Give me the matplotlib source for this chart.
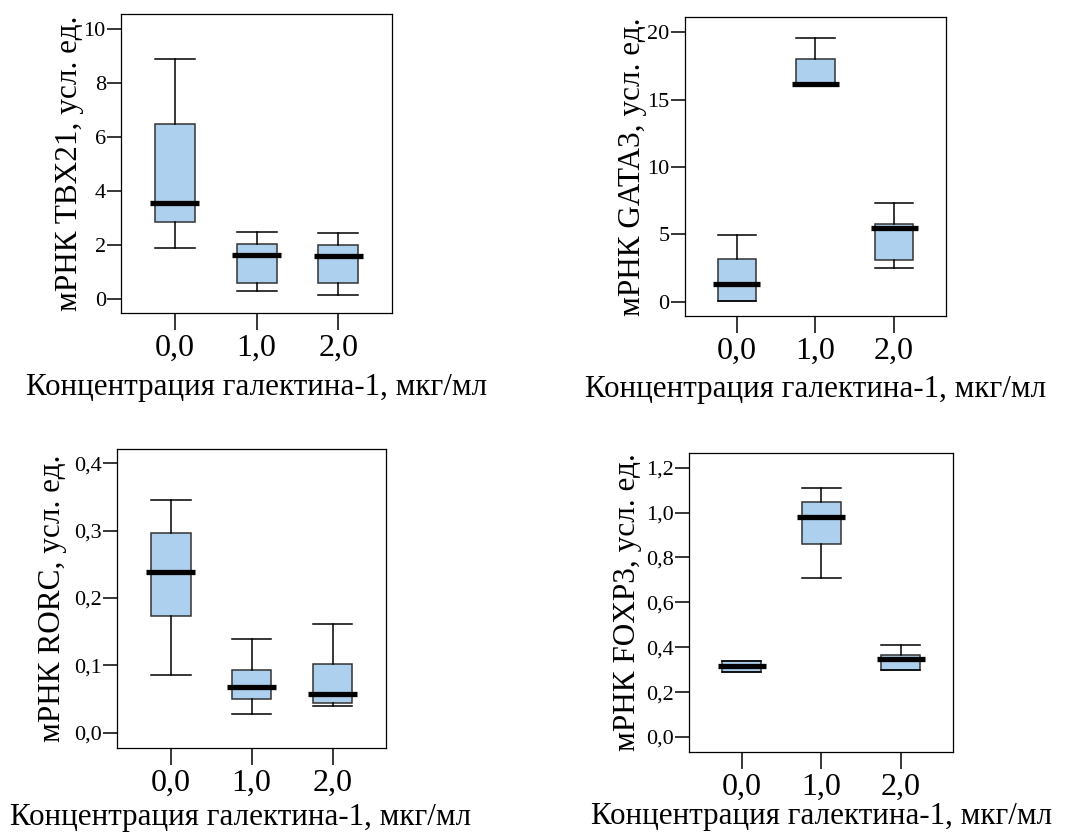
import numpy as np
import matplotlib
matplotlib.use('Agg')
import matplotlib.pyplot as plt
from matplotlib.ticker import FuncFormatter

plt.rcParams['font.family'] = ['Liberation Serif', 'DejaVu Serif']

groups = ['0,0', '1,0', '2,0']
xlabel = 'Концентрация галектина-1, мкг/мл'

# box stats: whisker low, Q1, median, Q3, whisker high
tbx21_lo = [1.90, 0.31, 0.16]
tbx21_q1 = [2.87, 0.60, 0.59]
tbx21_med = [3.55, 1.62, 1.61]
tbx21_q3 = [6.50, 2.04, 1.99]
tbx21_hi = [8.91, 2.50, 2.46]

gata3_lo = [0.07, 16.09, 2.52]
gata3_q1 = [0.07, 16.09, 3.12]
gata3_med = [1.29, 16.19, 5.45]
gata3_q3 = [3.17, 18.00, 5.79]
gata3_hi = [4.97, 19.60, 7.33]

rorc_lo = [0.086, 0.027, 0.039]
rorc_q1 = [0.173, 0.050, 0.044]
rorc_med = [0.239, 0.068, 0.057]
rorc_q3 = [0.296, 0.093, 0.102]
rorc_hi = [0.345, 0.139, 0.162]

foxp3_lo = [0.288, 0.710, 0.299]
foxp3_q1 = [0.288, 0.859, 0.299]
foxp3_med = [0.318, 0.979, 0.349]
foxp3_q3 = [0.340, 1.047, 0.367]
foxp3_hi = [0.340, 1.110, 0.409]

panels = [
    dict(data=(tbx21_lo, tbx21_q1, tbx21_med, tbx21_q3, tbx21_hi),
         ylabel='мРНК TBX21, усл. ед.', yticks=np.arange(0, 11, 2), ylim=(-0.52, 10.57), dec=0,
         rect=[0.1126, 0.6238, 0.2521, 0.3594], ylab_xy=(-0.137, 0.5), xlab_xy=(0.5, -0.200)),
    dict(data=(gata3_lo, gata3_q1, gata3_med, gata3_q3, gata3_hi),
         ylabel='мРНК GATA3, усл. ед.', yticks=np.arange(0, 21, 5), ylim=(-1.06, 21.11), dec=0,
         rect=[0.6372, 0.6202, 0.2428, 0.3590], ylab_xy=(-0.146, 0.5), xlab_xy=(0.5, -0.198)),
    dict(data=(rorc_lo, rorc_q1, rorc_med, rorc_q3, rorc_hi),
         ylabel='мРНК RORC, усл. ед.', yticks=np.arange(0, 0.41, 0.1), ylim=(-0.0232, 0.4212), dec=1,
         rect=[0.1091, 0.1006, 0.2500, 0.3597], ylab_xy=(-0.187, 0.5), xlab_xy=(0.46, -0.184)),
    dict(data=(foxp3_lo, foxp3_q1, foxp3_med, foxp3_q3, foxp3_hi),
         ylabel='мРНК FOXP3, усл. ед.', yticks=np.arange(0, 1.21, 0.2), ylim=(-0.0668, 1.2655), dec=1,
         rect=[0.6412, 0.0962, 0.2456, 0.3594], ylab_xy=(-0.178, 0.5), xlab_xy=(0.5, -0.168)),
]

fig = plt.figure(figsize=(10.75, 8.32), dpi=100)

pos = np.arange(len(groups))
box_w = 0.49

for p in panels:
    ax = fig.add_axes(p['rect'])
    lo, q1, med, q3, hi = p['data']
    stats = []
    for i in range(len(groups)):
        stats.append({'whislo': lo[i], 'q1': q1[i], 'med': med[i], 'q3': q3[i], 'whishi': hi[i], 'fliers': []})
    ax.bxp(stats, positions=pos, widths=box_w, capwidths=box_w, patch_artist=True, showfliers=False,
           boxprops=dict(facecolor='#acd0ee', edgecolor='#333333', linewidth=1.1),
           whiskerprops=dict(color='black', linewidth=1.1),
           capprops=dict(color='black', linewidth=1.1),
           medianprops=dict(linewidth=0))
    ax.hlines(med, pos - 0.3, pos + 0.3, colors='black', linewidth=3.8, zorder=5)

    ax.set_xlim(-0.66, 2.66)
    ax.set_ylim(*p['ylim'])
    ax.set_xticks(pos)
    ax.set_xticklabels(groups)
    ax.set_yticks(p['yticks'])
    dec = p['dec']
    ax.yaxis.set_major_formatter(FuncFormatter(lambda v, _, d=dec: f'{v:.{d}f}'.replace('.', ',')))

    ax.tick_params(axis='x', direction='out', length=12, width=1.1, labelsize=23, pad=3)
    ax.tick_params(axis='y', direction='out', length=10, width=1.1, labelsize=16, pad=1)
    for s in ax.spines.values():
        s.set_linewidth(0.9)

    ax.set_ylabel(p['ylabel'], fontsize=22.5)
    ax.yaxis.set_label_coords(*p['ylab_xy'])
    ax.set_xlabel(xlabel, fontsize=22.3, va='top')
    ax.xaxis.set_label_coords(*p['xlab_xy'])

fig.savefig('out.png', dpi=100)
